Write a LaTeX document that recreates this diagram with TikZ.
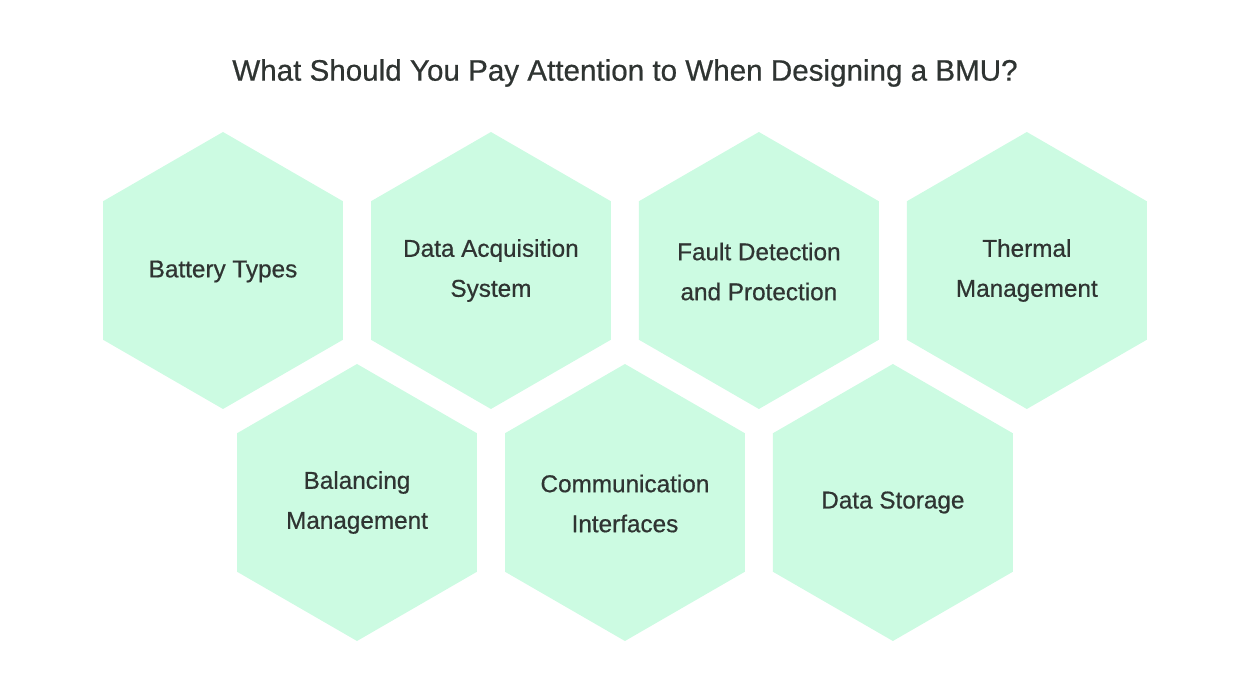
\documentclass[tikz,border=0pt]{standalone}
\usepackage{fontspec}
\setmainfont{Liberation Sans}
\newfontfamily\medfont[FakeBold=0.6]{Liberation Sans}
\usepackage{tikz}
\usetikzlibrary{positioning}
\usetikzlibrary{shapes.geometric}
\definecolor{hexmint}{HTML}{CCFBE2}
\definecolor{inkgray}{HTML}{2F3432}
\tikzset{
    hexbox/.style={regular polygon, regular polygon sides=6, shape border rotate=30, fill=hexmint, minimum size=277pt, inner sep=0pt, outer sep=0pt},
    hexlabel/.style={text=inkgray, inner sep=0pt, align=center, font=\medfont\fontsize{24.3}{40}\selectfont},
    headline/.style={text=inkgray, inner sep=0pt, font=\medfont\fontsize{29.6}{36}\selectfont}
}

\begin{document}
\begin{tikzpicture}[x=1pt,y=1pt,node distance=28pt]
            \useasboundingbox (0,0) rectangle (1250,-700);
            \node(title) [headline] at (625,-73) {What Should You Pay Attention to When Designing a BMU?};

            \node(bt) [hexbox] at (223,-270.5) {};
            \node(das) [hexbox,right=of bt] {};
            \node(fdp) [hexbox,right=of das] {};
            \node(tm) [hexbox,right=of fdp] {};

            \node(bm) [hexbox] at (357,-502.5) {};
            \node(ci) [hexbox,right=of bm] {};
            \node(ds) [hexbox,right=of ci] {};

            \node(btlabel) [hexlabel,yshift=-1pt] at (bt) {Battery Types};
            \node(daslabel) [hexlabel] at (das) {Data Acquisition\\System};
            \node(fdplabel) [hexlabel,yshift=-1pt] at (fdp) {Fault Detection\\and Protection};
            \node(tmlabel) [hexlabel] at (tm) {Thermal\\Management};
            \node(bmlabel) [hexlabel] at (bm) {Balancing\\Management};
            \node(cilabel) [hexlabel,yshift=-1pt] at (ci) {Communication\\Interfaces};
            \node(dslabel) [hexlabel] at (ds) {Data Storage};
        \end{tikzpicture}
\end{document}
